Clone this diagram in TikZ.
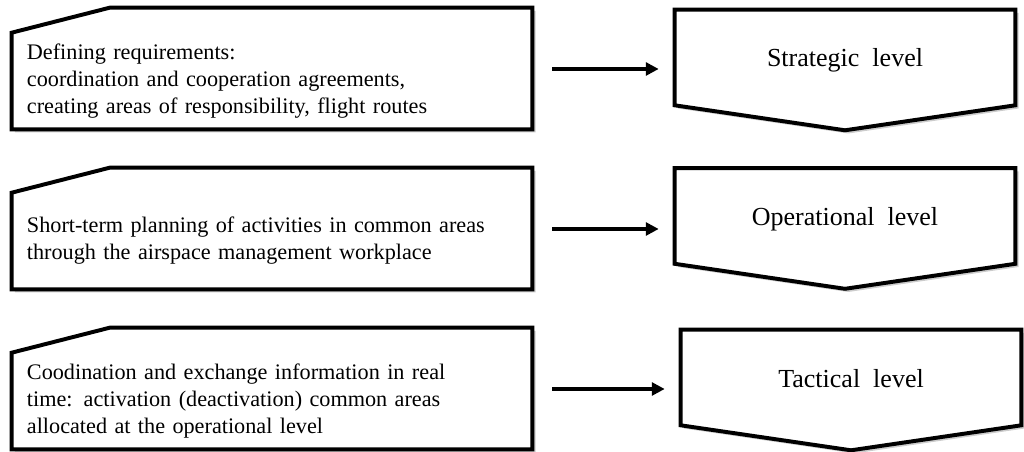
\documentclass[tikz,border=0pt]{standalone}
\usepackage{fontspec}
\setmainfont{Liberation Serif}
\usetikzlibrary{arrows.meta,shadows,backgrounds,calc}

\begin{document}
\begin{tikzpicture}[x=0.025cm,y=-0.025cm,
  task/.style={minimum width=13cm,minimum height=2.4cm,inner xsep=0.375cm,text width=12.25cm,align=left,font=\fontsize{15.8}{19.2}\selectfont},
  level/.style={minimum width=8.5cm,minimum height=2.375cm,text height=0.575cm,text depth=0.1cm,font=\fontsize{18.5}{22}\selectfont},
  frame/.style={line width=2.8pt,fill=white,line join=miter,drop shadow={shadow xshift=0.08cm,shadow yshift=-0.08cm,opacity=0.4}},
  flow/.style={line width=2.2pt,-{Triangle[length=0.32cm,width=0.32cm]},shorten <=0.5cm,shorten >=0.4cm}]
  \useasboundingbox (0,0) rectangle (1024,452);

  % Requirement boxes (left)
  \node[task] (req1) at (272,81) {Defining requirements:\\coordination and cooperation agreements,\\creating areas of responsibility, flight routes};
  \node[task] (req2) at (272,241) {Short-term planning of activities in common areas\\through the airspace management workplace};
  \node[task] (req3) at (272,401) {Coodination and exchange information in real\\time: activation (deactivation) common areas\\allocated at the operational level};

  % Levels (right)
  \node[level] (strat) at (845,57.5) {Strategic~ level};
  \node[level] (oper) at (845,216) {Operational~ level};
  \node[level] (tact) at (851,377.5) {Tactical~ level};

  % Outlines behind the text
  \begin{pgfonlayer}{background}
    \foreach \n in {req1,req2,req3} {
      \draw[frame] (\n.south west) -- (\n.north west) -- ($(\n.north west)+(98,-25)$) -- ($(\n.north east)+(0,-25)$) -- (\n.south east) -- cycle;
    }
    \foreach \n in {strat,oper,tact} {
      \draw[frame] (\n.north west) -- (\n.north east) -- (\n.south east) -- ($(\n.south)+(0,25)$) -- (\n.south west) -- cycle;
    }
  \end{pgfonlayer}

  % Arrows
  \foreach \a/\b in {req1/strat,req2/oper,req3/tact} {
    \coordinate (\a-out) at ([yshift=0.3cm]\a.east);
    \draw[flow] (\a-out) -- (\a-out -| \b.west);
  }
\end{tikzpicture}
\end{document}
